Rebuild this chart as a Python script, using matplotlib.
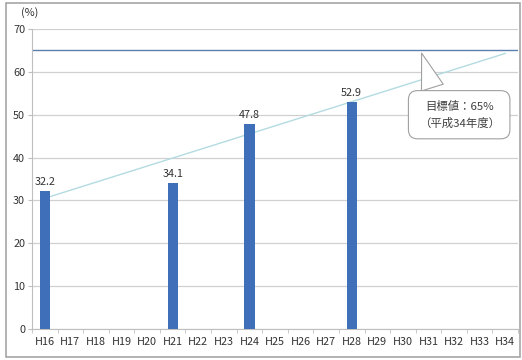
import matplotlib.pyplot as plt
from matplotlib.patches import Rectangle

plt.rcParams['font.family'] = ['Noto Sans CJK JP', 'DejaVu Sans']

categories = ['H16', 'H17', 'H18', 'H19', 'H20', 'H21', 'H22', 'H23', 'H24', 'H25',
              'H26', 'H27', 'H28', 'H29', 'H30', 'H31', 'H32', 'H33', 'H34']
bar_categories = ['H16', 'H21', 'H24', 'H28']
bar_values = [32.2, 34.1, 47.8, 52.9]
target_value = 65
trend_categories = ['H16', 'H34']
trend_values = [30.5, 64.3]
y_ticks = [0, 10, 20, 30, 40, 50, 60, 70]

fig = plt.figure(figsize=(5.22, 3.6), dpi=100)
fig.patches.append(Rectangle((6/522, 3/360), 514/522, 354/360, transform=fig.transFigure,
                             fill=False, ec='#a6a6a6', lw=1.2))
ax = fig.add_axes([32/522, 1-329/360, 486/522, 300/360])

idx = {c: i for i, c in enumerate(categories)}
bx = [idx[c] for c in bar_categories]
ax.bar(bx, bar_values, width=0.4, color='#3f6fb8', zorder=3)
for x, v in zip(bx, bar_values):
    ax.text(x, v + 1.0, f'{v:.1f}', ha='center', va='bottom', fontsize=7.8, color='#333333', zorder=4)

ax.axhline(target_value, color='#5b7fad', lw=1.0, zorder=2)
ax.plot([idx[c] for c in trend_categories], trend_values, color='#b3dbe0', lw=1.0, zorder=2)

ax.set_xlim(-0.5, len(categories) - 0.5)
ax.set_ylim(0, 70)
ax.set_yticks(y_ticks)
ax.set_xticks(range(len(categories)))
ax.set_xticklabels(categories)
ax.set_xticks([i + 0.5 for i in range(-1, len(categories))], minor=True)
ax.tick_params(axis='x', which='major', length=0, labelsize=7.8, colors='#333333', pad=6)
ax.tick_params(axis='x', which='minor', length=3, color='#bfbfbf', direction='out')
ax.tick_params(axis='y', length=3, color='#bfbfbf', labelsize=7.8, labelcolor='#333333', pad=2)
ax.grid(axis='y', color='#d0d0d0', lw=0.9, zorder=0)
for s in ['top', 'right']:
    ax.spines[s].set_visible(False)
ax.spines['left'].set_color('#bfbfbf')
ax.spines['bottom'].set_color('#bfbfbf')

ax.text(-0.6, 72.5, '(%)', fontsize=7.8, color='#333333', ha='center', va='bottom', clip_on=False)

ax.annotate('目標値：65%\n（平成34年度）', xy=(14.7, 65), xytext=(16.2, 50.0),
            ha='center', va='center', fontsize=8.2, color='#404040', linespacing=1.6,
            bbox=dict(boxstyle='round,pad=0.9,rounding_size=0.8', fc='white', ec='#a0a0a0', lw=0.8),
            arrowprops=dict(arrowstyle='wedge,tail_width=2.0,shrink_factor=0.5', fc='white',
                            ec='#a0a0a0', lw=0.8, relpos=(0.22, 1.0)),
            zorder=5)

fig.savefig('out.png', dpi=100)
